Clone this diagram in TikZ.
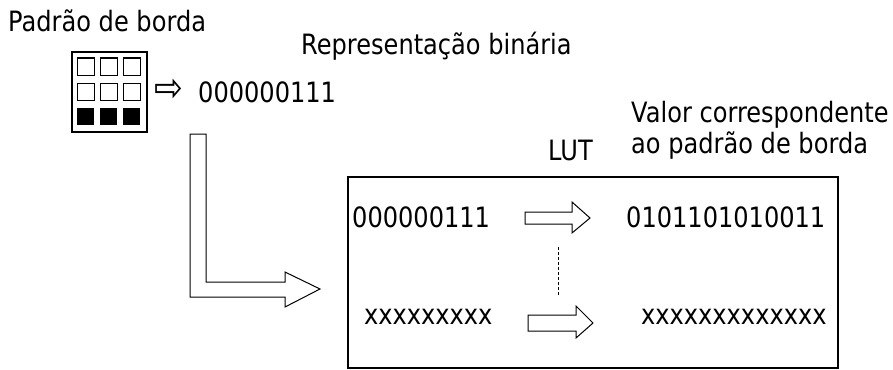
\documentclass[tikz,border=0pt]{standalone}
\usepackage{fontspec}
\setmainfont[FakeStretch=0.86]{DejaVu Sans}
\usetikzlibrary{positioning}
\tikzset{
  label text/.style={anchor=base west,inner sep=0pt,font=\fontsize{28}{31}\selectfont},
  cell/.style={draw,line width=1pt},
  block arrow/.style={draw,line width=1pt,line join=miter,fill=white}
}
\begin{document}
\begin{tikzpicture}[x=1pt,y=-1pt]
  \useasboundingbox (0,0) rectangle (893,369);
  % edge pattern and its binary form
  \node[label text] (title) at (8,32) {Padrão de borda};
  \draw[line width=1.4pt] (72,52) rectangle (147,132);
  \foreach \col in {77,100,123}{
    \foreach \row in {58,83}
      \draw[cell] (\col,\row) rectangle ++(17,17);
    \fill (\col,108) rectangle ++(17,17);
  }
  \node[anchor=center,inner sep=0pt,font=\fontsize{40}{44}\selectfont] (small) at (169,90) {⇨};
  \node[label text] (binary) at (198,102) {000000111};
  \node[label text] (reptitle) at (301,55) {Representação binária};
  % bent arrow into the table
  \draw[block arrow] (190,134)--(190,297)--(285,297)--(285,307)--(320,289)
    --(285,272)--(285,282)--(206,282)--(206,134)--cycle;
  % lookup table
  \node[label text] (lut) at (548,160) {LUT};
  \node[label text] (valtitle) at (631,122) {Valor correspondente};
  \node[label text] (valtitleb) at (631,153) {ao padrão de borda};
  \draw[line width=1.2pt] (348,177) rectangle (838,368);
  \node[label text] (keyA) at (352,227) {000000111};
  \node[label text] (valA) at (626,227) {0101101010011};
  \node[label text] (keyB) at (364,324) {xxxxxxxxx};
  \node[label text] (valB) at (641,324) {xxxxxxxxxxxxx};
  \begin{scope}[shift={(525,218)}]
    \draw[block arrow] (0,-6)--(47,-6)--(47,-16)--(65,0)--(47,15)--(47,6)--(0,6)--cycle;
  \end{scope}
  \begin{scope}[shift={(528,323)}]
    \draw[block arrow] (0,-8)--(48,-8)--(48,-17)--(65,0)--(48,15)--(48,8)--(0,8)--cycle;
  \end{scope}
  \draw[line width=1pt,dash pattern=on 3pt off 2pt] (558,247)--(558,295);
\end{tikzpicture}
\end{document}
